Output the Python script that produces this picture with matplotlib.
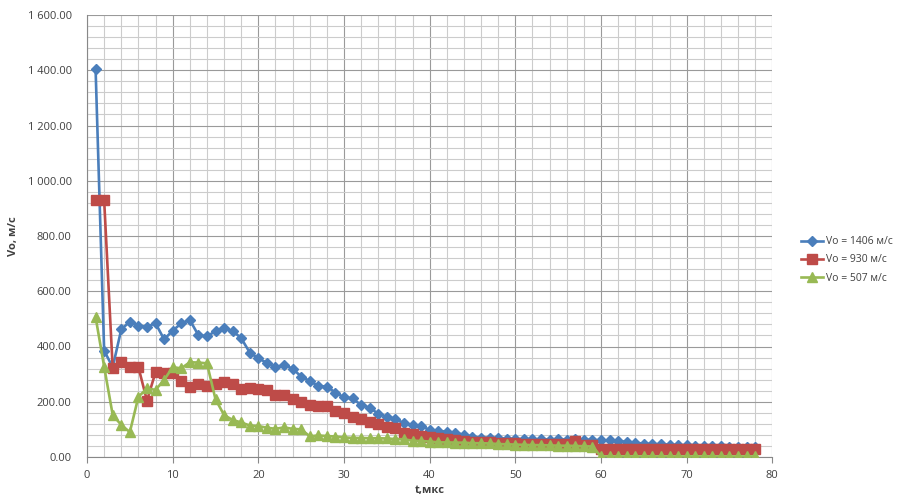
import numpy as np
import matplotlib.pyplot as plt
from matplotlib.ticker import MultipleLocator, FuncFormatter

plt.rcParams['font.family'] = ['Open Sans', 'DejaVu Sans']

t = np.arange(1, 79)

v_1406 = [1406, 385, 325, 462, 490, 475, 472, 484, 426, 457,
          484, 496, 441, 437, 455, 466, 457, 430, 378, 357,
          341, 325, 333, 320, 291, 275, 257, 255, 233, 216,
          212, 188, 179, 156, 146, 138, 122, 116, 112, 98,
          94, 92, 88, 80, 74, 70, 70, 68, 66, 64,
          65, 64, 64, 63, 64, 63, 64, 62, 62, 60,
          60, 58, 55, 52, 48, 47, 46, 44, 43, 42,
          41, 40, 40, 39, 38, 37, 36, 35]

v_930 = [930, 930, 321, 343, 325, 325, 204, 307, 305, 305,
         276, 252, 264, 257, 263, 273, 264, 247, 250, 245,
         244, 226, 223, 210, 200, 190, 185, 184, 168, 160,
         145, 136, 125, 119, 110, 104, 87, 83, 75, 71,
         68, 64, 62, 59, 56, 56, 53, 50, 50, 49,
         48, 48, 47, 47, 46, 46, 58, 45, 45, 28,
         28, 28, 28, 28, 28, 28, 28, 28, 28, 28,
         28, 28, 28, 28, 28, 28, 28, 28]

v_507 = [507, 327, 152, 116, 90, 218, 248, 243, 279, 325,
         321, 343, 342, 339, 209, 152, 134, 125, 114, 112,
         106, 102, 107, 102, 100, 75, 78, 76, 74, 71,
         69, 69, 68, 68, 67, 65, 64, 59, 58, 56,
         53, 53, 52, 52, 50, 50, 49, 47, 46, 45,
         44, 43, 43, 42, 41, 41, 40, 39, 38, 2,
         2, 2, 2, 2, 2, 2, 2, 2, 2, 2,
         2, 2, 2, 2, 2, 2, 2, 2]

labels = ['Vo = 1406 м/с', 'Vo = 930 м/с', 'Vo = 507 м/с']

fig = plt.figure(figsize=(8.97, 5.0), dpi=100)
ax = fig.add_axes([0.097, 0.086, 0.764, 0.884])

ax.plot(t, v_1406, color='#4A7EBB', lw=1.9, marker='D', ms=5, label=labels[0], zorder=3)
ax.plot(t, v_930, color='#BE4B48', lw=1.9, marker='s', ms=6.5, label=labels[1], zorder=3)
ax.plot(t, v_507, color='#98B954', lw=1.9, marker='^', ms=6.5, label=labels[2], zorder=3)

ax.set_xlim(0, 80)
ax.set_ylim(0, 1600)
ax.xaxis.set_major_locator(MultipleLocator(10))
ax.xaxis.set_minor_locator(MultipleLocator(2))
ax.yaxis.set_major_locator(MultipleLocator(200))
ax.yaxis.set_minor_locator(MultipleLocator(40))
ax.yaxis.set_major_formatter(FuncFormatter(lambda v, p: f'{v:,.2f}'.replace(',', ' ')))

ax.grid(which='major', color='#9a9a9a', lw=0.8)
ax.grid(which='minor', color='#cccccc', lw=0.8)
ax.set_axisbelow(True)

for s in ['top', 'right']:
    ax.spines[s].set_visible(False)
for s in ['left', 'bottom']:
    ax.spines[s].set_color('#888888')

ax.tick_params(axis='x', which='major', length=4, color='#888888', labelsize=8, labelcolor='#404040', pad=5)
ax.tick_params(axis='y', which='major', length=0, labelsize=8, labelcolor='#404040', pad=11)
ax.tick_params(which='minor', length=0)

ax.set_xlabel('t,мкс', fontsize=8, fontweight='bold', color='#404040', labelpad=3)
ax.set_ylabel('Vo, м/с', fontsize=8, fontweight='bold', color='#404040', labelpad=6)

fig.legend(loc='center left', bbox_to_anchor=(0.882, 0.48), frameon=False,
           fontsize=7.5, handlelength=2.2, labelspacing=0.7, handletextpad=0.2,
           labelcolor='#404040')

fig.savefig('out.png', dpi=100)
